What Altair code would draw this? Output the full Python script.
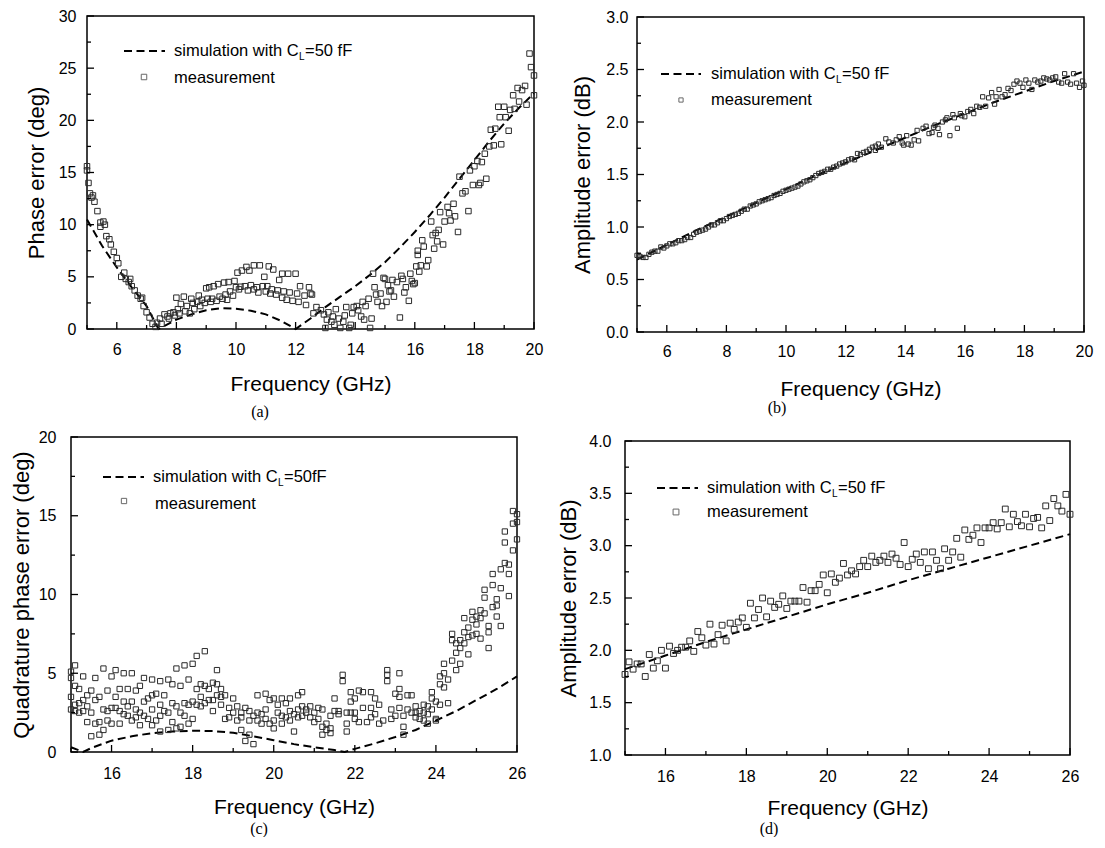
import altair as alt
import pandas as pd

FONT = "Liberation Sans"

# ---------------- panel (a): phase error, 5-20 GHz ----------------
a_sim_f = [5.0, 5.5, 6.0, 6.5, 7.0, 7.4, 8.0, 8.5, 9.0, 9.5, 10.0, 10.5, 11.0, 11.5, 12.0,
           12.5, 13.0, 13.5, 14.0, 14.5, 15.0, 15.5, 16.0, 16.5, 17.0, 17.5, 18.0, 18.5, 19.0, 19.5, 20.0]
a_sim_v = [10.5, 8.0, 5.9, 4.0, 2.2, 0.0, 0.9, 1.4, 1.8, 2.0, 1.95, 1.75, 1.4, 0.8, 0.0,
           1.0, 2.1, 3.1, 4.1, 5.2, 6.4, 7.8, 9.3, 10.9, 12.6, 14.4, 16.2, 18.0, 19.7, 21.2, 22.6]
a_meas = [
    (5.0, 15.6), (5.0, 15.2), (5.05, 14.0), (5.1, 13.0), (5.15, 12.6), (5.2, 12.8), (5.25, 12.2),
    (5.35, 11.3), (5.45, 10.2), (5.45, 9.8), (5.55, 10.3), (5.6, 10.0), (5.65, 8.9), (5.75, 8.6),
    (5.8, 8.1), (5.9, 7.4), (6.0, 6.8), (6.05, 6.3), (6.15, 5.0), (6.25, 5.4), (6.3, 4.8), (6.4, 4.5),
    (6.45, 4.8), (6.5, 4.1), (6.6, 3.7), (6.7, 3.2), (6.8, 2.9), (6.85, 3.0), (6.9, 2.2), (7.0, 1.6),
    (7.1, 1.1), (7.2, 0.5), (7.3, 0.2), (7.35, 0.6),
    (7.45, 1.0), (7.6, 1.4), (7.8, 1.5), (8.0, 3.0), (8.25, 3.1), (8.5, 2.9), (8.75, 3.2), (9.0, 3.9),
    (9.1, 4.0), (9.25, 4.1), (9.4, 4.3), (9.6, 4.45), (9.75, 4.5), (9.95, 4.6), (10.05, 5.4),
    (10.2, 5.6), (10.35, 5.95), (10.45, 5.6), (10.6, 6.1), (10.8, 6.1), (10.95, 5.0), (11.1, 6.0),
    (11.25, 5.7), (11.45, 4.7), (11.55, 5.3), (11.75, 5.3), (12.0, 5.3), (12.15, 4.1), (12.45, 4.0),
    (12.55, 3.3),
    (7.7, 1.2), (7.9, 1.6), (8.05, 1.9), (8.15, 2.4), (8.35, 2.2), (8.55, 2.5), (8.7, 2.6), (8.85, 2.8),
    (9.05, 2.9), (9.2, 2.9), (9.45, 3.1), (9.65, 3.3), (9.8, 3.6), (10.0, 4.0), (10.15, 4.05),
    (10.3, 4.1), (10.5, 4.2), (10.7, 4.0), (10.9, 4.1), (11.05, 4.1), (11.2, 3.8), (11.4, 3.7),
    (11.6, 3.6), (11.8, 3.5), (12.05, 3.4), (12.3, 3.2), (12.5, 3.4),
    (7.5, 0.5), (7.75, 1.0), (7.95, 1.3), (8.1, 1.5), (8.3, 1.7), (8.45, 1.5), (8.6, 1.9), (8.8, 2.2),
    (8.95, 2.5), (9.15, 2.6), (9.35, 2.7), (9.55, 2.9), (9.7, 2.8), (9.9, 3.2), (10.1, 3.8),
    (10.4, 3.7), (10.6, 3.8), (10.75, 3.5), (11.0, 3.6), (11.15, 3.4), (11.35, 3.3), (11.55, 3.0),
    (11.7, 2.8), (11.9, 2.7), (12.1, 2.6), (12.35, 2.3), (12.6, 1.5), (12.7, 2.1), (12.85, 1.8),
    (12.95, 1.4),
    (13.0, 0.1), (13.05, 0.9), (13.1, 1.6), (13.2, 0.7), (13.25, 1.2), (13.3, 0.4), (13.35, 1.9),
    (13.45, 1.0), (13.5, 0.1), (13.6, 0.7), (13.65, 1.3), (13.7, 2.1), (13.8, 0.1), (13.85, 0.4),
    (13.9, 1.5), (13.95, 2.1), (14.05, 2.2), (14.1, 1.8), (14.2, 1.2), (14.25, 2.6), (14.3, 0.9),
    (14.35, 2.2), (14.45, 2.9), (14.5, 0.1), (14.55, 1.0), (14.6, 5.3), (14.65, 4.0), (14.7, 3.3),
    (14.75, 2.6), (14.85, 3.4), (14.9, 2.2), (14.95, 4.9), (15.0, 4.8), (15.05, 2.6), (15.1, 4.2),
    (15.15, 3.6), (15.2, 3.7), (15.25, 4.7), (15.3, 3.1), (15.4, 4.5), (15.5, 1.1), (15.55, 5.1),
    (15.6, 4.8), (15.65, 3.5), (15.7, 4.0), (15.8, 2.7), (15.85, 5.3), (15.9, 4.6), (15.95, 4.3),
    (16.0, 4.4), (16.05, 6.0), (16.1, 7.5), (16.1, 7.1), (16.15, 5.5), (16.2, 6.1), (16.25, 8.5),
    (16.3, 7.9), (16.4, 6.0), (16.45, 6.6), (16.55, 10.3), (16.6, 9.0), (16.65, 7.7), (16.7, 9.2),
    (16.75, 8.4), (16.8, 9.5), (16.85, 11.2), (16.95, 8.1), (17.0, 10.3), (17.1, 11.7), (17.15, 11.1),
    (17.2, 10.4), (17.3, 12.0), (17.35, 10.8), (17.45, 9.3), (17.5, 14.6), (17.6, 13.0), (17.7, 13.2),
    (17.8, 11.3), (17.85, 15.2), (17.95, 13.8), (18.0, 15.6), (18.1, 16.1), (18.15, 13.8),
    (18.2, 14.0), (18.25, 16.0), (18.35, 16.8), (18.4, 14.4), (18.5, 17.5), (18.55, 19.1),
    (18.65, 17.6), (18.7, 19.2), (18.8, 21.3), (18.85, 20.3), (18.9, 17.7), (19.0, 21.3),
    (19.05, 20.3), (19.15, 19.0), (19.2, 21.0), (19.3, 22.4), (19.35, 21.1), (19.45, 23.1),
    (19.5, 21.8), (19.6, 22.9), (19.7, 23.3), (19.75, 21.5), (19.85, 26.4), (19.9, 25.1),
    (20.0, 24.3), (20.0, 22.4),
]

# ---------------- panel (b): amplitude error, 5-20 GHz ----------------
b_sim_f = [5, 6, 7, 8, 9, 10, 11, 12, 13, 14, 15, 16, 17, 18, 19, 20]
b_sim_v = [0.69, 0.83, 0.97, 1.10, 1.23, 1.36, 1.49, 1.61, 1.73, 1.85, 1.97, 2.08, 2.19, 2.29, 2.39, 2.48]
b_meas = [
    (5.0, 0.73), (5.1, 0.72), (5.2, 0.71), (5.3, 0.71), (5.4, 0.74), (5.5, 0.76), (5.6, 0.77),
    (5.7, 0.77), (5.8, 0.81), (5.9, 0.80), (6.0, 0.82), (6.1, 0.84), (6.2, 0.84), (6.3, 0.85),
    (6.4, 0.87), (6.5, 0.87), (6.6, 0.88), (6.7, 0.90), (6.8, 0.90), (6.9, 0.93), (7.0, 0.95),
    (7.1, 0.96), (7.2, 0.97), (7.3, 0.98), (7.4, 1.00), (7.5, 1.02), (7.6, 1.02), (7.7, 1.04),
    (7.8, 1.06), (7.9, 1.06), (8.0, 1.08), (8.1, 1.10), (8.2, 1.11), (8.3, 1.12), (8.4, 1.13),
    (8.5, 1.15), (8.6, 1.17), (8.7, 1.17), (8.8, 1.20), (8.9, 1.21), (9.0, 1.22), (9.1, 1.24),
    (9.2, 1.25), (9.3, 1.26), (9.4, 1.27), (9.5, 1.28), (9.6, 1.30), (9.7, 1.31), (9.8, 1.32),
    (9.9, 1.34), (10.0, 1.35), (10.1, 1.36), (10.2, 1.37), (10.3, 1.38), (10.4, 1.39), (10.5, 1.41),
    (10.6, 1.43), (10.7, 1.44), (10.8, 1.45), (10.9, 1.47), (11.0, 1.49), (11.1, 1.51), (11.2, 1.52),
    (11.3, 1.53), (11.4, 1.55), (11.5, 1.55), (11.6, 1.57), (11.7, 1.58), (11.8, 1.60), (11.9, 1.61),
    (12.0, 1.62), (12.1, 1.64), (12.2, 1.65), (12.3, 1.64), (12.4, 1.70), (12.5, 1.69), (12.6, 1.71),
    (12.7, 1.72), (12.8, 1.74), (12.9, 1.76),
    (13.0, 1.77), (13.0, 1.73), (13.1, 1.79), (13.2, 1.76), (13.35, 1.84), (13.45, 1.81), (13.6, 1.80),
    (13.7, 1.83), (13.8, 1.86), (13.9, 1.80), (13.95, 1.78), (14.05, 1.87), (14.1, 1.79), (14.2, 1.78),
    (14.3, 1.83), (14.4, 1.92), (14.45, 1.82), (14.6, 1.94), (14.7, 1.96), (14.8, 1.89), (14.9, 1.90),
    (14.95, 1.95), (15.0, 1.97), (15.1, 1.94), (15.15, 1.88), (15.25, 2.00), (15.35, 2.02),
    (15.4, 2.04), (15.5, 1.87), (15.6, 2.07), (15.65, 2.04), (15.75, 1.94), (15.85, 2.08),
    (15.9, 2.06), (16.0, 2.05), (16.1, 2.10), (16.2, 2.12), (16.3, 2.08), (16.4, 2.15), (16.5, 2.14),
    (16.6, 2.24), (16.7, 2.15), (16.8, 2.23), (16.9, 2.28), (17.0, 2.17), (17.05, 2.24), (17.15, 2.31),
    (17.25, 2.24), (17.35, 2.26), (17.45, 2.32), (17.55, 2.30), (17.65, 2.36), (17.75, 2.39),
    (17.85, 2.37), (17.95, 2.33), (18.05, 2.40), (18.15, 2.37), (18.25, 2.31), (18.35, 2.40),
    (18.45, 2.38), (18.55, 2.39), (18.65, 2.42), (18.75, 2.41), (18.85, 2.40), (18.95, 2.42),
    (19.05, 2.43), (19.15, 2.38), (19.25, 2.37), (19.35, 2.46), (19.45, 2.38), (19.55, 2.36),
    (19.65, 2.46), (19.75, 2.37), (19.85, 2.33), (19.95, 2.39), (20.0, 2.35),
]

# ---------------- panel (c): quadrature phase error, 15-26 GHz ----------------
c_sim_f = [15.0, 15.3, 15.5, 16.0, 16.5, 17.0, 17.5, 18.0, 18.5, 19.0, 19.5, 20.0, 20.5, 21.0, 21.5,
           21.75, 22.0, 22.5, 23.0, 23.5, 24.0, 24.5, 25.0, 25.5, 26.0]
c_sim_v = [0.3, 0.0, 0.25, 0.72, 1.0, 1.2, 1.3, 1.35, 1.33, 1.22, 1.0, 0.75, 0.5, 0.3, 0.12,
           0.0, 0.2, 0.55, 0.95, 1.4, 2.0, 2.6, 3.3, 4.0, 4.8]
c_meas = [
    (15.0, 5.1), (15.0, 3.5), (15.0, 2.7), (15.0, 4.7), (15.1, 5.5), (15.1, 4.2), (15.1, 3.0), (15.1, 2.6),
    (15.2, 4.0), (15.2, 3.1), (15.2, 2.5), (15.3, 4.8), (15.3, 3.3), (15.3, 2.6), (15.4, 3.6), (15.4, 2.9),
    (15.4, 1.9), (15.5, 3.9), (15.5, 2.5), (15.5, 1.0), (15.6, 4.7), (15.6, 3.3), (15.6, 1.8), (15.7, 3.5),
    (15.7, 1.9), (15.7, 1.1), (15.8, 5.3), (15.8, 2.7), (15.8, 1.4), (15.9, 3.9), (15.9, 2.6), (15.9, 2.0),
    (16.0, 4.8), (16.0, 2.8), (16.0, 1.8), (16.1, 5.2), (16.1, 3.5), (16.1, 2.8), (16.2, 4.0), (16.2, 2.6),
    (16.2, 1.8), (16.3, 5.0), (16.3, 3.2), (16.3, 2.4), (16.4, 4.0), (16.4, 2.9), (16.4, 2.3), (16.5, 5.0),
    (16.5, 3.2), (16.5, 2.0), (16.6, 3.9), (16.6, 2.7), (16.6, 2.2), (16.7, 4.2), (16.7, 2.5), (16.7, 1.7),
    (16.8, 4.7), (16.8, 3.2), (16.8, 2.3), (16.9, 3.4), (16.9, 2.1), (17.0, 4.6), (17.0, 3.6), (17.0, 2.7),
    (17.0, 1.7), (17.1, 3.7), (17.1, 2.0), (17.2, 4.5), (17.2, 3.0), (17.2, 2.3), (17.2, 1.3), (17.3, 3.6),
    (17.3, 2.6), (17.4, 4.6), (17.4, 2.5), (17.4, 1.4), (17.5, 4.3), (17.5, 3.1), (17.5, 1.9), (17.6, 5.3),
    (17.6, 2.9), (17.6, 1.5), (17.7, 4.2), (17.7, 2.5), (17.7, 1.6), (17.8, 5.5), (17.8, 3.1), (17.8, 2.3),
    (17.9, 4.6), (17.9, 3.0), (17.9, 1.8), (18.0, 5.6), (18.0, 3.2), (18.0, 2.1), (18.1, 6.1), (18.1, 4.0),
    (18.1, 3.0), (18.2, 4.3), (18.2, 3.5), (18.2, 2.9), (18.3, 6.4), (18.3, 4.2), (18.3, 3.1), (18.4, 4.0),
    (18.4, 3.3), (18.5, 4.4), (18.5, 3.3), (18.5, 2.6), (18.6, 5.2), (18.6, 4.3), (18.6, 3.6), (18.7, 4.0),
    (18.7, 3.5), (18.7, 3.0), (18.8, 3.6), (18.8, 2.1), (18.9, 2.8), (18.9, 2.2), (19.0, 3.4), (19.0, 2.5),
    (19.1, 2.9), (19.1, 2.0), (19.2, 2.5), (19.2, 2.2), (19.2, 1.4), (19.3, 2.8), (19.3, 0.7), (19.4, 2.6),
    (19.4, 2.0), (19.4, 1.1), (19.5, 2.3), (19.5, 0.5), (19.6, 3.6), (19.6, 2.5), (19.6, 2.0), (19.7, 2.4),
    (19.7, 1.8), (19.8, 3.7), (19.8, 2.7), (19.8, 2.1), (19.9, 3.3), (19.9, 1.8), (20.0, 3.4), (20.0, 2.0),
    (20.0, 1.5), (20.1, 3.0), (20.1, 2.5), (20.2, 3.4), (20.2, 2.3), (20.2, 1.8), (20.3, 3.1), (20.3, 2.2),
    (20.4, 3.4), (20.4, 2.6), (20.4, 2.0), (20.5, 2.4), (20.5, 1.3), (20.6, 3.6), (20.6, 2.7), (20.6, 2.2),
    (20.7, 3.8), (20.7, 2.9), (20.7, 2.3), (20.8, 2.7), (20.8, 2.5), (20.9, 2.9), (20.9, 2.2), (21.0, 2.5),
    (21.0, 1.9), (21.1, 2.8), (21.1, 2.1), (21.2, 2.7), (21.2, 1.6), (21.2, 1.1), (21.3, 1.8), (21.3, 1.4),
    (21.4, 2.3), (21.4, 1.5), (21.4, 1.2), (21.5, 3.4), (21.5, 2.6), (21.6, 2.6), (21.6, 2.4), (21.7, 4.9),
    (21.7, 4.5), (21.8, 2.5), (21.8, 1.8), (21.8, 1.3), (21.9, 3.8), (21.9, 3.2), (21.9, 2.5), (22.0, 3.4),
    (22.0, 2.5), (22.0, 2.1), (22.1, 3.9), (22.1, 1.9), (22.2, 3.8), (22.2, 2.8), (22.3, 1.9), (22.4, 3.8),
    (22.4, 2.8), (22.4, 2.2), (22.5, 3.4), (22.5, 2.4), (22.6, 3.0), (22.6, 1.8), (22.7, 2.0), (22.8, 5.2),
    (22.8, 4.9), (22.8, 4.5), (22.9, 2.7), (22.9, 2.1), (23.0, 3.7), (23.0, 2.3), (23.1, 5.0), (23.1, 4.0),
    (23.1, 3.5), (23.1, 2.8), (23.2, 2.3), (23.2, 1.6), (23.2, 1.1), (23.3, 3.6), (23.3, 2.7), (23.4, 3.6),
    (23.4, 2.5), (23.5, 2.9), (23.5, 2.5), (23.5, 2.2), (23.6, 2.6), (23.6, 2.1), (23.7, 3.0), (23.7, 2.5),
    (23.7, 2.0), (23.8, 2.9), (23.8, 2.4), (23.8, 1.8), (23.9, 3.8), (23.9, 3.4), (23.9, 2.7), (24.0, 3.2),
    (24.0, 2.1), (24.0, 2.0), (24.1, 4.8), (24.1, 4.3), (24.1, 3.0), (24.2, 5.0), (24.2, 4.1), (24.2, 5.6),
    (24.3, 4.6), (24.3, 3.1), (24.4, 7.5), (24.4, 5.8), (24.4, 7.1), (24.5, 6.9), (24.5, 6.3), (24.5, 5.2),
    (24.6, 7.1), (24.6, 6.6), (24.6, 5.6), (24.7, 7.6), (24.7, 6.9), (24.7, 8.5), (24.8, 7.9), (24.8, 6.2),
    (24.8, 7.3), (24.9, 8.9), (24.9, 8.4), (24.9, 7.4), (25.0, 8.6), (25.0, 8.1), (25.0, 7.5), (25.1, 9.0),
    (25.1, 8.5), (25.1, 7.2), (25.2, 10.3), (25.2, 9.8), (25.2, 8.8), (25.3, 8.0), (25.3, 7.6), (25.3, 6.6),
    (25.4, 11.3), (25.4, 10.6), (25.4, 9.2), (25.5, 9.7), (25.5, 8.6), (25.5, 9.3), (25.6, 11.6),
    (25.6, 10.4), (25.6, 8.0), (25.7, 13.3), (25.7, 14.0), (25.7, 12.0), (25.8, 11.9), (25.8, 11.3),
    (25.8, 9.9), (25.9, 14.5), (25.9, 12.8), (25.9, 15.3), (26.0, 15.1), (26.0, 14.6), (26.0, 13.5),
]

# ---------------- panel (d): amplitude error, 15-26 GHz ----------------
d_sim_f = [15, 16, 17, 18, 19, 20, 21, 22, 23, 24, 25, 26]
d_sim_v = [1.82, 1.95, 2.08, 2.20, 2.32, 2.44, 2.55, 2.67, 2.78, 2.89, 3.00, 3.11]
d_meas = [
    (15.0, 1.77), (15.1, 1.89), (15.2, 1.82), (15.3, 1.87), (15.4, 1.87), (15.5, 1.75), (15.6, 1.96),
    (15.7, 1.83), (15.8, 1.90), (15.9, 2.00), (16.0, 1.83), (16.1, 2.04), (16.2, 1.97), (16.3, 2.00),
    (16.4, 2.03), (16.5, 2.03), (16.6, 2.09), (16.7, 1.99), (16.8, 2.18), (16.9, 2.12), (17.0, 2.05),
    (17.1, 2.25), (17.2, 2.06), (17.3, 2.15), (17.4, 2.24), (17.5, 2.09), (17.6, 2.26), (17.7, 2.20),
    (17.8, 2.27), (17.9, 2.31), (18.0, 2.22), (18.1, 2.45), (18.2, 2.31), (18.3, 2.39), (18.4, 2.50),
    (18.5, 2.32), (18.6, 2.47), (18.7, 2.41), (18.8, 2.44), (18.9, 2.52), (19.0, 2.40), (19.1, 2.47),
    (19.2, 2.47), (19.3, 2.47), (19.4, 2.60), (19.5, 2.46), (19.6, 2.57), (19.7, 2.57), (19.8, 2.63),
    (19.9, 2.72), (20.0, 2.55), (20.1, 2.73), (20.2, 2.65), (20.3, 2.69), (20.4, 2.83), (20.5, 2.72),
    (20.6, 2.76), (20.7, 2.73), (20.8, 2.80), (20.9, 2.86), (21.0, 2.80), (21.1, 2.90), (21.2, 2.84),
    (21.3, 2.86), (21.4, 2.90), (21.5, 2.84), (21.6, 2.92), (21.7, 2.88), (21.8, 2.82), (21.9, 3.03),
    (22.0, 2.80), (22.1, 2.87), (22.2, 2.92), (22.3, 2.84), (22.4, 2.94), (22.5, 2.78), (22.6, 2.94),
    (22.7, 2.86), (22.8, 2.78), (22.9, 2.97), (23.0, 2.86), (23.1, 2.94), (23.2, 3.07), (23.3, 2.89),
    (23.4, 3.15), (23.5, 3.06), (23.6, 3.10), (23.7, 3.17), (23.8, 3.03), (23.9, 3.17), (24.0, 3.17),
    (24.1, 3.22), (24.2, 3.16), (24.3, 3.22), (24.4, 3.35), (24.5, 3.18), (24.6, 3.30), (24.7, 3.23),
    (24.8, 3.19), (24.9, 3.30), (25.0, 3.18), (25.1, 3.26), (25.2, 3.27), (25.3, 3.17), (25.4, 3.38),
    (25.5, 3.24), (25.6, 3.45), (25.7, 3.38), (25.8, 3.33), (25.9, 3.49), (26.0, 3.30),
]

# ---------------- axis tick values ----------------
ab_x_major = [6, 8, 10, 12, 14, 16, 18, 20]
ab_x_minor = [5, 7, 9, 11, 13, 15, 17, 19]
cd_x_major = [16, 18, 20, 22, 24, 26]
cd_x_minor = [15, 17, 19, 21, 23, 25]
a_y_major = [0, 5, 10, 15, 20, 25, 30]
a_y_minor = [2.5, 7.5, 12.5, 17.5, 22.5, 27.5]
b_y_major = [0.0, 0.5, 1.0, 1.5, 2.0, 2.5, 3.0]
b_y_minor = [0.25, 0.75, 1.25, 1.75, 2.25, 2.75]
c_y_major = [0, 5, 10, 15, 20]
c_y_minor = [2.5, 7.5, 12.5, 17.5]
d_y_major = [1.0, 1.5, 2.0, 2.5, 3.0, 3.5, 4.0]
d_y_minor = [1.25, 1.75, 2.25, 2.75, 3.25, 3.75]

ONE = pd.DataFrame({"k": [0]})


def panel(sim_f, sim_v, meas, xdom, ydom, xmaj, xmin, ymaj, ymin, yfmt, ytitle,
          W, H, shift, bounds, pads, leg, tail, sub, sub_pos, psize):
    ox, oy = shift
    VW, VH = ox + W, oy + H
    xlp, xtp, ylp, ytp = pads
    xs = alt.Scale(domain=xdom, range=[ox, ox + W], nice=False, zero=False)
    ys = alt.Scale(domain=ydom, range=[oy + H, oy], nice=False, zero=False)
    x_axis = alt.Axis(title="Frequency (GHz)", values=xmaj, format="d", labelFlush=False,
                      ticks=False, tickSize=0, domain=False, grid=False, labelPadding=xlp,
                      titlePadding=xtp, labelFontSize=16, titleFontSize=21,
                      titleFontWeight="normal", labelFont=FONT, titleFont=FONT,
                      labelColor="black", titleColor="black", labelOverlap=False)
    y_axis = alt.Axis(title=ytitle, values=ymaj, format=yfmt, labelFlush=False,
                      ticks=False, tickSize=0, domain=False, grid=False, labelPadding=ylp,
                      titlePadding=ytp, labelFontSize=16, titleFontSize=22,
                      titleFontWeight="normal", labelFont=FONT, titleFont=FONT,
                      labelColor="black", titleColor="black", labelOverlap=False,
                      offset=-ox)
    X = alt.X("f:Q", scale=xs, axis=x_axis)
    Y = alt.Y("v:Q", scale=ys, axis=y_axis)

    sim_df = pd.DataFrame({"f": sim_f, "v": sim_v})
    meas_df = pd.DataFrame(meas, columns=["f", "v"])

    frame = alt.Chart(ONE).mark_rect(fillOpacity=0, stroke="black", strokeWidth=1.5).encode(
        x=alt.value(ox), x2=alt.value(ox + W), y=alt.value(oy), y2=alt.value(oy + H))
    line = alt.Chart(sim_df).mark_line(color="black", strokeDash=[8, 4.5], strokeWidth=2).encode(
        x=X, y=Y)
    pts = alt.Chart(meas_df).mark_point(shape="square", filled=False, size=psize, color="#2a2a2a",
                                        strokeWidth=1, opacity=1).encode(x=X, y=Y)

    def xticks(vals, ln):
        return alt.Chart(pd.DataFrame({"f": vals})).mark_rule(color="black", strokeWidth=1.3).encode(
            x=X, y=alt.value(oy + H), y2=alt.value(oy + H - ln))

    def yticks(vals, ln):
        return alt.Chart(pd.DataFrame({"v": vals})).mark_rule(color="black", strokeWidth=1.3).encode(
            y=Y, x=alt.value(ox), x2=alt.value(ox + ln))

    lx, lx2, ly, tx, mx, my, sx, sy = leg
    leg_line = alt.Chart(ONE).mark_rule(color="black", strokeDash=[8, 4.5], strokeWidth=2).encode(
        x=alt.value(ox + lx), x2=alt.value(ox + lx2), y=alt.value(oy + ly))
    t1 = alt.Chart(ONE).mark_text(text="simulation with C", align="left", baseline="middle",
                                  font=FONT, fontSize=16.5, color="black").encode(
        x=alt.value(ox + tx), y=alt.value(oy + ly))
    t2 = alt.Chart(ONE).mark_text(text="L", align="left", baseline="middle",
                                  font=FONT, fontSize=10, color="black").encode(
        x=alt.value(ox + tx + 125), y=alt.value(oy + ly + 6))
    t3 = alt.Chart(ONE).mark_text(text=tail, align="left", baseline="middle",
                                  font=FONT, fontSize=16.5, color="black").encode(
        x=alt.value(ox + tx + 131), y=alt.value(oy + ly))
    leg_pt = alt.Chart(ONE).mark_point(shape="square", filled=False, size=psize, color="#2a2a2a",
                                       strokeWidth=1).encode(x=alt.value(ox + sx), y=alt.value(oy + sy))
    t4 = alt.Chart(ONE).mark_text(text="measurement", align="left", baseline="middle",
                                  font=FONT, fontSize=16.5, color="black").encode(
        x=alt.value(ox + mx), y=alt.value(oy + my))
    lab = alt.Chart(ONE).mark_text(text=sub, align="center", baseline="middle",
                                   font="Liberation Serif", fontSize=16, color="black").encode(
        x=alt.value(ox + sub_pos[0]), y=alt.value(oy + sub_pos[1]))
    L, T, R, B = bounds
    anchor = alt.Chart(ONE).mark_rule(opacity=0, color="white").encode(
        x=alt.value(-L), x2=alt.value(VW + R), y=alt.value(-T), y2=alt.value(VH + B))

    return alt.layer(frame, line, pts, xticks(xmaj, 7), xticks(xmin, 4), yticks(ymaj, 7),
                     yticks(ymin, 4), leg_line, t1, t2, t3, leg_pt, t4, lab, anchor).properties(
        width=VW, height=VH)


pa = panel(a_sim_f, a_sim_v, a_meas, [5, 20], [0, 30], ab_x_major, ab_x_minor, a_y_major, a_y_minor,
           "d", "Phase error (deg)", 447, 313, (16, 0), (63, 8, 11, 91), (12, 16, 11, 10),
           (37, 78, 35, 87, 87, 62, 57, 61), "=50 fF", "(a)", (173, 396), 30)
pb = panel(b_sim_f, b_sim_v, b_meas, [5, 20], [0, 3], ab_x_major, ab_x_minor, b_y_major, b_y_minor,
           ".1f", "Amplitude error (dB)", 447, 315, (0, 1), (92, 8, 13, 88), (11, 19, 9, 11),
           (24, 64, 57, 74, 74, 83, 44, 83), "=50 fF", "(b)", (140, 391), 18)
pc = panel(c_sim_f, c_sim_v, c_meas, [15, 26], [0, 20], cd_x_major, cd_x_minor, c_y_major, c_y_minor,
           "d", "Quadrature phase error (deg)", 446, 315, (0, 0), (63, 17, 28, 85), (13, 15, 15, 5),
           (32, 73, 40, 82, 84, 67, 53, 64), "=50fF", "(c)", (188, 392), 28)
pd_ = panel(d_sim_f, d_sim_v, d_meas, [15, 26], [1, 4], cd_x_major, cd_x_minor, d_y_major, d_y_minor,
            ".1f", "Amplitude error (dB)", 445, 314, (0, 4), (80, 17, 27, 82), (13, 13, 14, 8),
            (32, 73, 47, 82, 82, 71, 51, 71), "=50 fF", "(d)", (144, 388), 34)

row1 = alt.hconcat(pa, pb, spacing=0)
row2 = alt.hconcat(pc, pd_, spacing=0)
chart = alt.vconcat(row1, row2, spacing=0).properties(padding=0).configure_view(
    strokeOpacity=0)

chart.save("out.html", embed_options={"renderer": "svg", "actions": False})
